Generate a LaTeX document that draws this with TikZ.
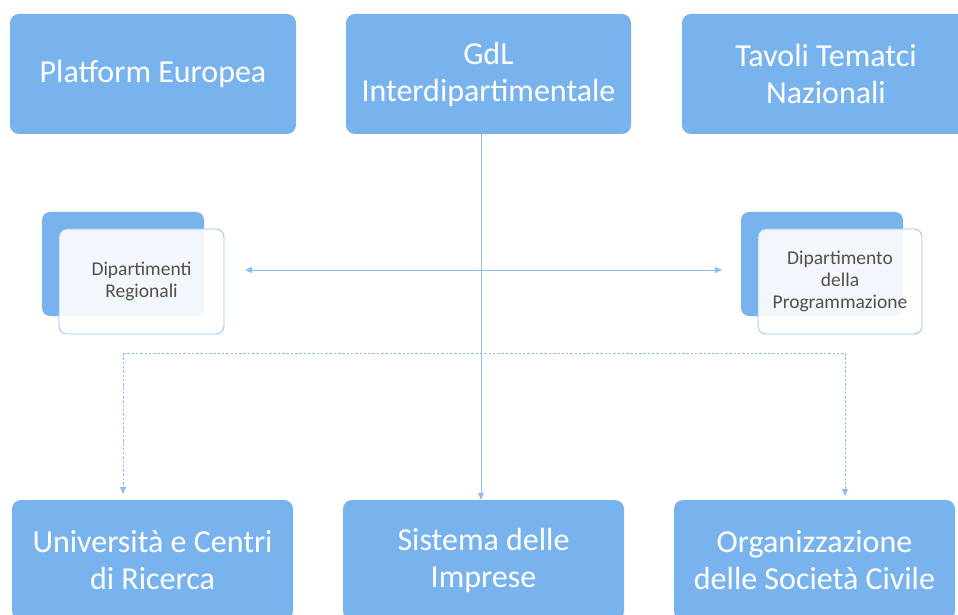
\documentclass[tikz,border=0pt]{standalone}
\usepackage{fontspec}
\setmainfont{Carlito}
\usetikzlibrary{arrows.meta}
\definecolor{boxblue}{HTML}{79B3EE}
\definecolor{linkblue}{HTML}{8EBDF0}
\definecolor{darktxt}{HTML}{574E47}
\tikzset{
  bigbox/.style={rectangle, rounded corners=9pt, fill=boxblue, draw=none,
    minimum width=286pt, minimum height=120pt, inner sep=0pt,
    text=white, align=center, font=\fontsize{32}{37}\selectfont},
  backbox/.style={rectangle, rounded corners=8pt, fill=boxblue, draw=none,
    minimum width=162pt, minimum height=104pt, inner sep=0pt},
  frontbox/.style={rectangle, rounded corners=8pt, fill=white, fill opacity=0.9,
    text opacity=1, draw=boxblue!80, line width=0.8pt,
    minimum width=165pt, minimum height=105pt, inner sep=0pt,
    text=darktxt, align=center, font=\fontsize{19.5}{22}\selectfont},
  link/.style={draw=linkblue, line width=0.9pt},
  tip/.style={-{Triangle[length=7pt,width=6pt]}},
  dtip/.style={{Triangle[length=7pt,width=6pt]}-{Triangle[length=7pt,width=6pt]}},
  dsh/.style={dash pattern=on 2.5pt off 1.8pt}
}
\begin{document}
\begin{tikzpicture}[x=1pt,y=1pt]
\clip (0,0) rectangle (958,614);
\fill[white] (0,0) rectangle (958,614);
% top row
\node[bigbox] (plat) at (153,540) {Platform Europea};
\node[bigbox, minimum width=285pt] (gdl) at (488.5,540) {GdL\\Interdipartimentale};
\node[bigbox, minimum width=288pt] (tav) at (826,540) {Tavoli Tematci\\Nazionali};
% middle
\node[backbox] (regb) at (123,350) {};
\node[frontbox] (reg) at (141.5,332.5) {Dipartimenti\\Regionali};
\node[backbox] (progb) at (822,350) {};
\node[frontbox, minimum width=164pt] (prog) at (840,332.5) {Dipartimento\\della\\Programmazione};
% bottom row
\node[bigbox, minimum width=281pt] (univ) at (152.5,54) {Università e Centri\\di Ricerca};
\node[bigbox, minimum width=281pt] (imp) at (483.5,54) {Sistema delle\\Imprese};
\node[bigbox, minimum width=281pt] (org) at (814.5,54) {Organizzazione\\delle Società Civile};
% connectors
\coordinate (hl) at (245,344);
\coordinate (hr) at (722,344);
\coordinate (dl) at (123,261);
\coordinate (dr) at (845,261);
\coordinate (dla) at (123,120);
\coordinate (dra) at (845,118);
\draw[link, dtip] (hl) -- (hr);
\draw[link, tip] (gdl.south -| 481,0) -- (imp.north -| 481,0);
\draw[link, dsh, tip] (dl) -- (dla);
\draw[link, dsh, tip] (dr) -- (dra);
\draw[link, dsh] (dl) -- (dr);
\end{tikzpicture}
\end{document}
